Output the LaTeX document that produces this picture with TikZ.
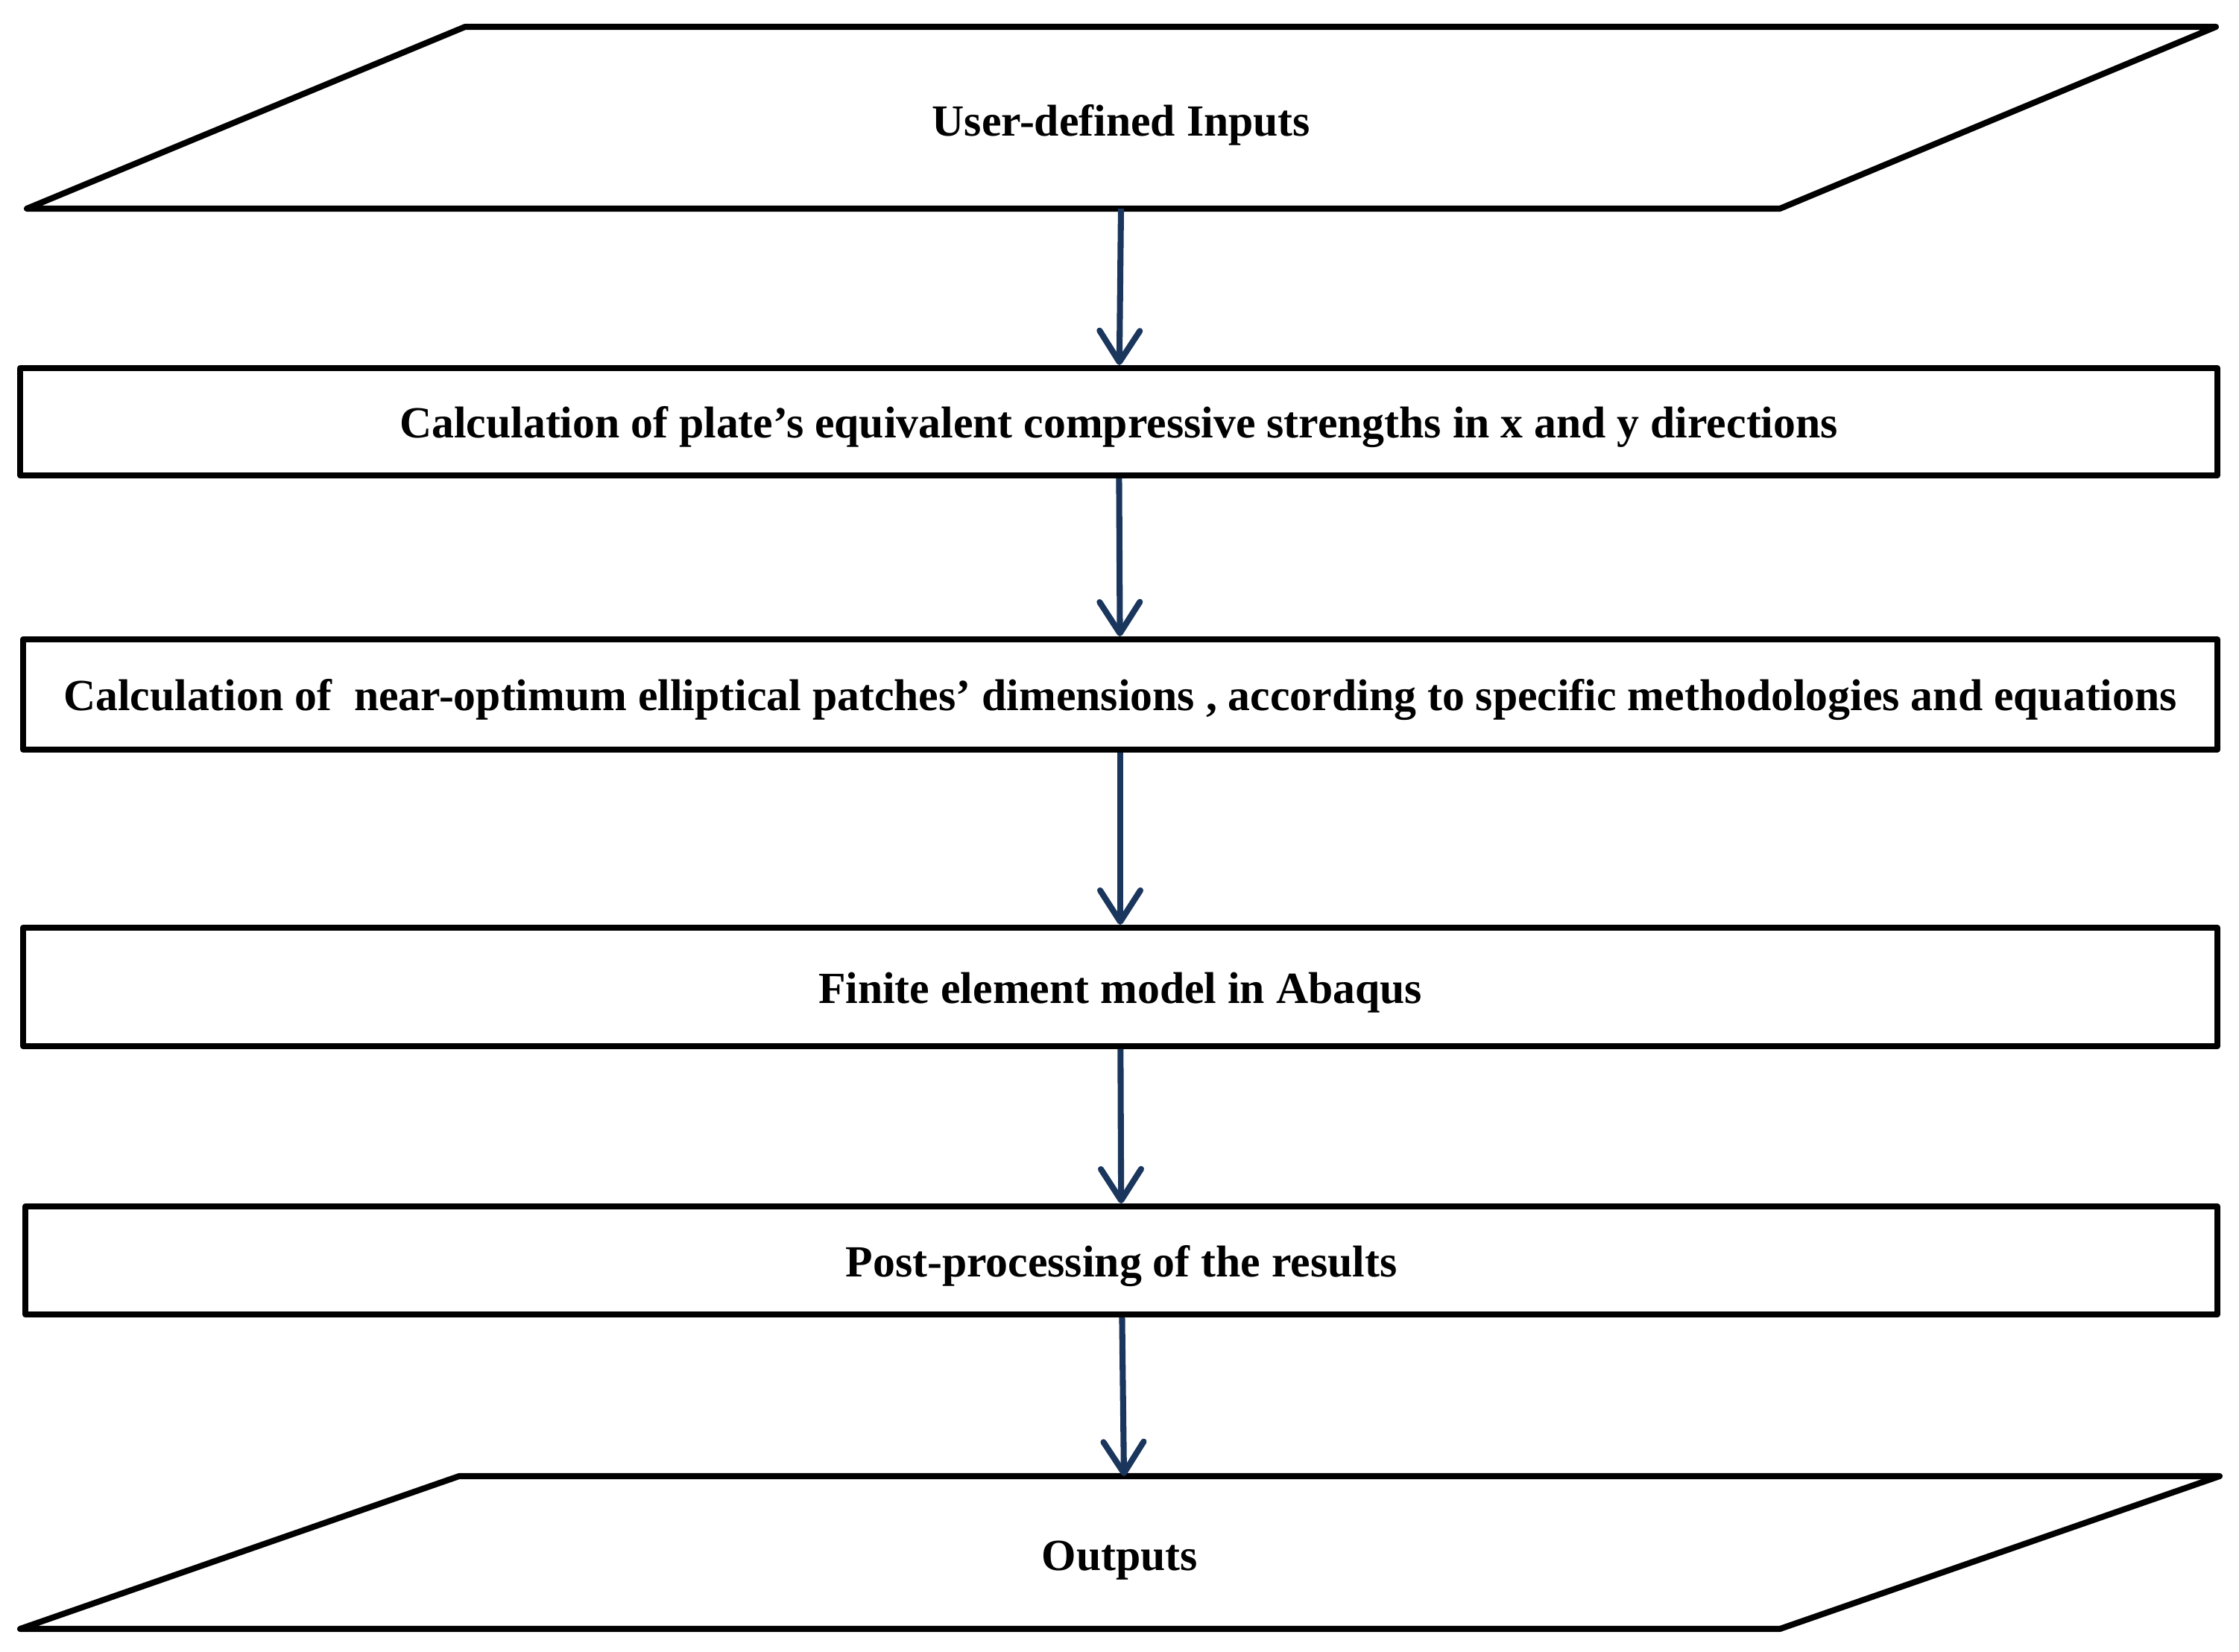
\documentclass[tikz,border=0pt]{standalone}
\usepackage{fontspec}
\setmainfont{Liberation Serif}
\usepackage{tikz}
\usetikzlibrary{arrows.meta}
\definecolor{Navy}{HTML}{1B365D}

\begin{document}
\begin{tikzpicture}[
        box/.style={rectangle,draw=black,line width=2.3pt,line join=round,inner sep=0pt,
          text height=0.56cm,text depth=0.13cm,font=\fontsize{17}{20}\selectfont\bfseries},
        io/.style={draw=black,line width=2.3pt,line join=round},
        lbl/.style={inner sep=0pt,text height=0.56cm,text depth=0.13cm,
          font=\fontsize{17}{20}\selectfont\bfseries},
        a/.style={-{Straight Barb[length=4.2mm,width=5.4mm,round]},draw=Navy,line width=2.3pt}]
        \useasboundingbox (0,0) rectangle (30.04,-22.17);
        % inputs
        \draw[io] (0.36,-2.80) -- (6.24,-0.36) -- (29.73,-0.36) -- (23.88,-2.80) -- cycle;
        \node[lbl] (inp) at (15.045,-1.61) {User-defined Inputs};
        \coordinate (inp-s) at (15.04,-2.80);
        % steps
        \node[box,minimum width=29.48cm,minimum height=1.44cm] (b1) at (15.01,-5.66)
          {Calculation of plate’s equivalent compressive strengths in x and y directions};
        \node[box,minimum width=29.44cm,minimum height=1.48cm] (b2) at (15.03,-9.32)
          {Calculation of \ near-optimum elliptical patches’ dimensions , according to specific methodologies and equations};
        \node[box,minimum width=29.44cm,minimum height=1.59cm] (b3) at (15.03,-13.245)
          {Finite element model in Abaqus};
        \node[box,minimum width=29.41cm,minimum height=1.45cm] (b4) at (15.045,-16.915)
          {Post-processing of the results};
        % outputs
        \draw[io] (0.27,-21.86) -- (6.16,-19.81) -- (29.78,-19.81) -- (23.88,-21.86) -- cycle;
        \node[lbl] (out) at (15.025,-20.86) {Outputs};
        \coordinate (out-n) at (15.08,-19.81);
        \draw[a] (inp-s)--(b1);
        \draw[a] (b1)--(b2);
        \draw[a] (b2)--(b3);
        \draw[a] (b3)--(b4);
        \draw[a] (b4)--(out-n);
      \end{tikzpicture}
\end{document}
